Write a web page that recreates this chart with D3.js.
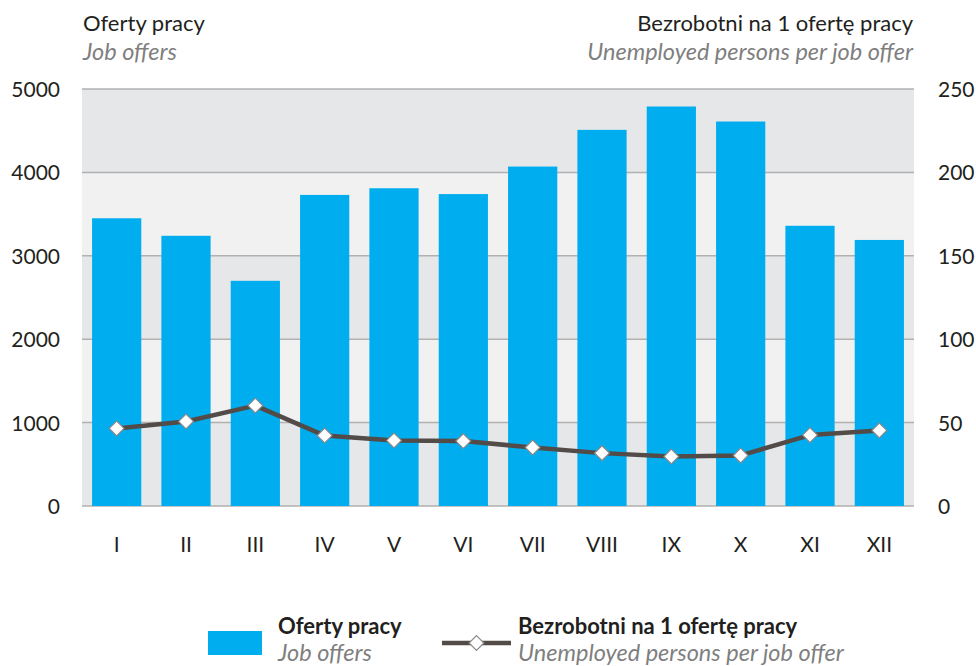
<!DOCTYPE html>
<html>
<head>
<meta charset="utf-8">
<script src="https://cdn.jsdelivr.net/npm/d3@7"></script>
<style>
  body { margin: 0; background: #fff; }
  svg text { font-family: Lato, "Open Sans", sans-serif; fill: #231f20; }
  .it { font-style: italic; fill: #7f7f7f; font-size: 23.5px; }
  .tt { font-size: 22px; }
</style>
</head>
<body>
<svg id="chart" width="976" height="666"></svg>
<script>
// months
var months = ["I", "II", "III", "IV", "V", "VI", "VII", "VIII", "IX", "X", "XI", "XII"];
// job offers (left axis)
var offers = [3450, 3240, 2700, 3730, 3810, 3740, 4070, 4510, 4790, 4610, 3360, 3190];
// unemployed per one offer (right axis)
var perOffer = [46.5, 50.7, 60.2, 42.2, 39.3, 38.9, 35.1, 31.7, 29.7, 30.3, 42.5, 45.3];
var leftTicks = [0, 1000, 2000, 3000, 4000, 5000];
var rightTicks = [0, 50, 100, 150, 200, 250];

var svg = d3.select("#chart");
var plotLeft = 82, plotRight = 914, plotTop = 89, plotBottom = 506;

var x = d3.scaleBand().domain(months).range([plotLeft, plotRight]).paddingInner(0.29).paddingOuter(0.145);
var y = d3.scaleLinear().domain([0, 5000]).range([plotBottom, plotTop]);
var y2 = d3.scaleLinear().domain([0, 250]).range([plotBottom, plotTop]);

// background bands
var bands = d3.pairs(leftTicks);
svg.append("g").selectAll("rect")
    .data(bands)
    .enter().append("rect")
    .attr("x", plotLeft)
    .attr("width", plotRight - plotLeft)
    .attr("y", function(d) { return y(d[1]); })
    .attr("height", function(d) { return y(d[0]) - y(d[1]); })
    .attr("fill", function(d, i) { return i % 2 === 0 ? "#e6e7e9" : "#f1f1f1"; });

// gridlines
svg.append("g").selectAll("line")
    .data(leftTicks)
    .enter().append("line")
    .attr("x1", plotLeft).attr("x2", plotRight)
    .attr("y1", function(d) { return y(d); })
    .attr("y2", function(d) { return y(d); })
    .attr("stroke", "#b1b1b1")
    .attr("stroke-width", 1.5);

// bars
svg.append("g").selectAll("rect")
    .data(offers)
    .enter().append("rect")
    .attr("x", function(d, i) { return x(months[i]); })
    .attr("width", x.bandwidth())
    .attr("y", function(d) { return y(d); })
    .attr("height", function(d) { return y(0) - y(d); })
    .attr("fill", "#00aeef");

// line
var cx = function(i) { return x(months[i]) + x.bandwidth() / 2; };
var line = d3.line()
    .x(function(d, i) { return cx(i); })
    .y(function(d) { return y2(d); });

svg.append("path")
    .datum(perOffer)
    .attr("d", line)
    .attr("fill", "none")
    .attr("stroke", "#524b48")
    .attr("stroke-width", 4.5)
    .attr("stroke-linejoin", "round");

var diamond = d3.symbol().type(d3.symbolDiamond2).size(140);
svg.append("g").selectAll("path")
    .data(perOffer)
    .enter().append("path")
    .attr("d", diamond)
    .attr("transform", function(d, i) { return "translate(" + cx(i) + "," + y2(d) + ")"; })
    .attr("fill", "#fff")
    .attr("stroke", "#8a8a8a")
    .attr("stroke-width", 1.2);

// axes
var axL = svg.append("g")
    .attr("transform", "translate(" + (plotLeft - 22) + ",0)")
    .call(d3.axisLeft(y).tickValues(leftTicks).tickFormat(d3.format("d")).tickSize(0).tickPadding(0));
var axR = svg.append("g")
    .attr("transform", "translate(" + (plotRight + 24) + ",0)")
    .call(d3.axisRight(y2).tickValues(rightTicks).tickFormat(d3.format("d")).tickSize(0).tickPadding(0));
var axB = svg.append("g")
    .attr("transform", "translate(0," + (plotBottom + 29) + ")")
    .call(d3.axisBottom(x).tickSize(0).tickPadding(0));

[axL, axR, axB].forEach(function(a) {
    a.select(".domain").remove();
    a.selectAll("text")
        .style("font-size", "21px")
        .style("font-family", "Lato, sans-serif")
        .attr("fill", "#231f20");
});
axL.selectAll("text").attr("dy", "0.36em");
axR.selectAll("text").attr("dy", "0.36em");
axB.selectAll("text").attr("dy", "0.8em");

// axis titles
svg.append("text").attr("class", "tt").attr("x", 83).attr("y", 31).text("Oferty pracy");
svg.append("text").attr("class", "it").attr("x", 83).attr("y", 60).text("Job offers");
svg.append("text").attr("class", "tt").attr("x", 913).attr("y", 31).attr("text-anchor", "end").text("Bezrobotni na 1 ofertę pracy");
svg.append("text").attr("class", "it").attr("x", 913).attr("y", 60).attr("text-anchor", "end").text("Unemployed persons per job offer");

// legend
var lg = svg.append("g");
lg.append("rect").attr("x", 208).attr("y", 631).attr("width", 54).attr("height", 24).attr("fill", "#00aeef");
lg.append("text").attr("class", "tt").attr("x", 278).attr("y", 634).style("font-weight", "bold").text("Oferty pracy");
lg.append("text").attr("class", "it").attr("x", 278).attr("y", 661).text("Job offers");

lg.append("line").attr("x1", 442).attr("x2", 511).attr("y1", 643).attr("y2", 643)
    .attr("stroke", "#524b48").attr("stroke-width", 4.5);
lg.append("path").attr("d", diamond).attr("transform", "translate(476.5,643)")
    .attr("fill", "#fff").attr("stroke", "#8a8a8a").attr("stroke-width", 1.2);
lg.append("text").attr("class", "tt").attr("x", 518).attr("y", 634).style("font-weight", "bold").text("Bezrobotni na 1 ofertę pracy");
lg.append("text").attr("class", "it").attr("x", 518).attr("y", 661).text("Unemployed persons per job offer");
</script>
</body>
</html>
